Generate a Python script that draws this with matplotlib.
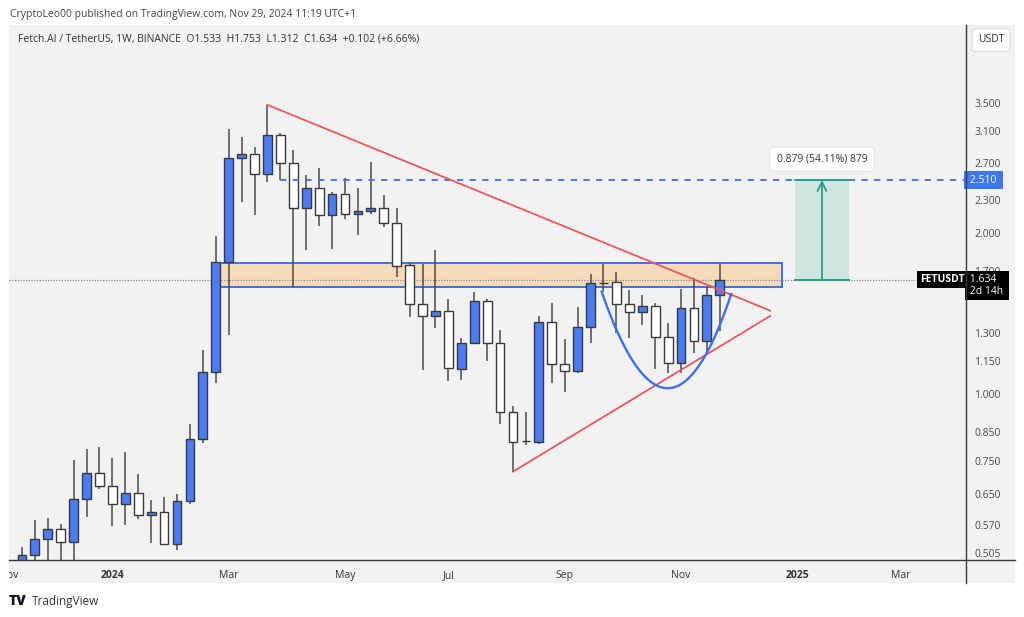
import numpy as np
import pandas as pd
import matplotlib
matplotlib.use('Agg')
import matplotlib.pyplot as plt
from matplotlib.patches import Rectangle
from matplotlib.lines import Line2D
from matplotlib.ticker import FixedLocator, NullLocator, FuncFormatter
from matplotlib.transforms import Bbox, TransformedBbox

plt.rcParams['font.family'] = ['Open Sans', 'DejaVu Sans']

W, H = 1024, 617

# weekly FET/USDT candles, first week starts 2023-11-13
first_week = '2023-11-13'
opens = [0.470, 0.500, 0.535, 0.559, 0.529, 0.637, 0.711, 0.673, 0.622, 0.652,
         0.593, 0.602, 0.524, 0.631, 0.825, 1.099, 1.767, 2.764, 2.809, 2.580,
         3.048, 2.706, 2.224, 2.423, 2.160, 2.361, 2.170, 2.198, 2.229, 2.084,
         1.742, 1.473, 1.400, 1.431, 1.114, 1.245, 1.490, 1.247, 0.924, 0.816,
         0.815, 1.365, 1.138, 1.103, 1.336, 1.615, 1.616, 1.473, 1.421, 1.462,
         1.276, 1.144, 1.446, 1.258, 1.533]
highs = [0.518, 0.581, 0.586, 0.571, 0.752, 0.789, 0.795, 0.758, 0.780, 0.708,
         0.634, 0.641, 0.650, 0.878, 1.210, 1.976, 3.127, 3.022, 2.891, 3.468,
         3.078, 2.854, 2.566, 2.641, 2.388, 2.530, 2.423, 2.717, 2.355, 2.224,
         1.755, 1.747, 1.858, 1.503, 1.271, 1.553, 1.503, 1.319, 0.950, 0.924,
         1.400, 1.477, 1.267, 1.452, 1.676, 1.747, 1.688, 1.564, 1.531, 1.481,
         1.356, 1.571, 1.645, 1.585, 1.753]
lows = [0.460, 0.480, 0.480, 0.480, 0.485, 0.590, 0.664, 0.567, 0.568, 0.583,
        0.527, 0.522, 0.511, 0.623, 0.810, 1.050, 1.289, 2.287, 2.160, 2.493,
        2.511, 1.587, 1.858, 2.063, 1.864, 2.126, 1.982, 2.167, 2.049, 1.656,
        1.395, 1.109, 1.327, 1.059, 1.062, 1.244, 1.153, 0.878, 0.716, 0.803,
        0.806, 1.047, 1.007, 1.096, 1.244, 1.553, 1.299, 1.271, 1.346, 1.112,
        1.093, 1.093, 1.191, 1.183, 1.312]
closes = [0.500, 0.535, 0.559, 0.529, 0.637, 0.711, 0.673, 0.622, 0.652, 0.593,
          0.602, 0.524, 0.631, 0.825, 1.099, 1.767, 2.764, 2.809, 2.580, 3.048,
          2.706, 2.224, 2.423, 2.160, 2.361, 2.170, 2.198, 2.229, 2.084, 1.735,
          1.473, 1.400, 1.431, 1.117, 1.245, 1.490, 1.247, 0.924, 0.814, 0.816,
          1.361, 1.138, 1.103, 1.336, 1.614, 1.615, 1.473, 1.421, 1.462, 1.276,
          1.144, 1.446, 1.258, 1.533, 1.634]

price_ticks = [0.505, 0.570, 0.650, 0.750, 0.850, 1.000, 1.150, 1.300,
               1.700, 2.000, 2.300, 2.700, 3.100, 3.500]

# drawings (bar index, price)
zone_bars = [14.9, 58.85]
zone_prices = [1.587, 1.755]
target_price = 2.510
target_from_bar = 20
last_price = 1.634
upper_trend_bars, upper_trend_prices = [19, 57.9], [3.468, 1.431]
lower_trend_bars, lower_trend_prices = [38, 57.9], [0.716, 1.399]
cup_bars, cup_prices = [44.86, 50.0, 54.88], [1.553, 0.680, 1.537]
measure_bars = [59.85, 63.96]
measure_prices = [1.631, 2.510]

BLUE = '#4a7cf8'
EDGE = '#3a3a3a'
RED = '#f0545c'
LINE_BLUE = '#3a6ff6'
BG = '#f2f2f2'

fig = plt.figure(figsize=(W / 100, H / 100), dpi=100)
fig.patch.set_facecolor('white')
fig.add_artist(Rectangle((9 / W, 1 - 583 / H), (1015 - 9) / W, (583 - 25) / H,
                         transform=fig.transFigure, facecolor=BG, edgecolor='none', zorder=-5))

ax = fig.add_axes([9 / W, 1 - 560 / H, (966 - 9) / W, (560 - 25) / H])
ax.set_facecolor('none')
ax.set_yscale('log')
ax.set_xlim(-0.85, 73.05)
ax.set_ylim(0.4896, 4.89)
for s in ax.spines.values():
    s.set_visible(False)

o = np.array(opens)
c = np.array(closes)
idx = np.arange(len(o))
up = c >= o

# zone
ax.add_patch(Rectangle((zone_bars[0], zone_prices[0]), zone_bars[1] - zone_bars[0],
                       zone_prices[1] - zone_prices[0], facecolor='#f5dbb8',
                       edgecolor=LINE_BLUE, lw=1.4, zorder=1))

ax.vlines(idx, lows, highs, color='#4a4a4a', lw=1.1, zorder=2)
ax.bar(idx, np.abs(c - o), bottom=np.minimum(o, c), width=0.68,
       color=np.where(up, BLUE, 'white'), edgecolor=EDGE, lw=1.0, zorder=3)

# last price dotted line
ax.axhline(last_price, color='#8a8a8a', lw=0.9, ls=(0, (1, 1.2)), zorder=1.5)

# target dashed line
ax.plot([target_from_bar, ax.get_xlim()[1]], [target_price, target_price],
        color=LINE_BLUE, lw=1.3, dashes=(3.5, 3.5), zorder=4)

# triangle
ax.plot(upper_trend_bars, upper_trend_prices, color=RED, lw=1.3, zorder=4)
ax.plot(lower_trend_bars, lower_trend_prices, color=RED, lw=1.3, zorder=4)

# cup (quadratic bezier in bar / log-price space)
t = np.linspace(0, 1, 80)
lp = np.log(cup_prices)
bx = (1 - t) ** 2 * cup_bars[0] + 2 * (1 - t) * t * cup_bars[1] + t ** 2 * cup_bars[2]
by = np.exp((1 - t) ** 2 * lp[0] + 2 * (1 - t) * t * lp[1] + t ** 2 * lp[2])
ax.plot(bx, by, color=LINE_BLUE, lw=1.7, zorder=4)

# measure box
ax.add_patch(Rectangle((measure_bars[0], measure_prices[0]), measure_bars[1] - measure_bars[0],
                       measure_prices[1] - measure_prices[0], facecolor='#cfe5df',
                       edgecolor='none', zorder=1))
for p in measure_prices:
    ax.plot(measure_bars, [p, p], color='#26a08a', lw=1.4, zorder=4)
mid = sum(measure_bars) / 2
ax.annotate('', xy=(mid, measure_prices[1]), xytext=(mid, measure_prices[0]),
            arrowprops=dict(arrowstyle='->', color='#26a08a', lw=1.3,
                            shrinkA=0, shrinkB=0, mutation_scale=16), zorder=5)
diff = measure_prices[1] - measure_prices[0]
ax.annotate(f'{diff:.3f} (54.11%) {round(diff * 1000)}', xy=(mid, measure_prices[1]),
            xytext=(0, 15), textcoords='offset points', ha='center', va='center',
            fontsize=7.5, color='#333333',
            bbox=dict(boxstyle='round,pad=0.65,rounding_size=0.3', fc='white', ec='#e4e4e4', lw=0.8))

# y axis on the right
ax.yaxis.tick_right()
ax.yaxis.set_major_locator(FixedLocator(price_ticks))
ax.yaxis.set_minor_locator(NullLocator())
ax.yaxis.set_major_formatter(FuncFormatter(lambda v, _: f'{v:.3f}'))
ax.tick_params(axis='y', length=0, pad=6, labelsize=7.5, labelcolor='#4a4a4a')

# x axis: first monday of odd months
weeks = pd.date_range('2023-11-06', '2025-03-31', freq='W-MON')
base = pd.Timestamp(first_week)
xt, xl = [], []
for m, grp in pd.Series(weeks).groupby([weeks.year, weeks.month]):
    d = grp.iloc[0]
    if d.month % 2 == 1:
        xt.append((d - base).days / 7)
        xl.append(str(d.year) if d.month == 1 else d.strftime('%b'))
ax.set_xticks(xt)
ax.set_xticklabels(xl)
ax.tick_params(axis='x', length=0, pad=7, labelsize=7.5, labelcolor='#333333')
panel_clip = TransformedBbox(Bbox([[9 / W, 0], [1015 / W, 1]]), fig.transFigure)
for lab in ax.get_xticklabels():
    if lab.get_text().isdigit():
        lab.set_fontweight('bold')
    lab.set_clip_box(panel_clip)
    lab.set_clip_on(True)

# axis lines
fig.add_artist(Line2D([966 / W, 966 / W], [1 - 25 / H, 1 - 583 / H], color='#3a3a3a', lw=1.0))
fig.add_artist(Line2D([9 / W, 1015 / W], [1 - 560 / H, 1 - 560 / H], color='#3a3a3a', lw=1.0))

# price labels
ytr = ax.get_yaxis_transform()
ax.text(1.0015, target_price, ' 2.510 ', transform=ytr, ha='left', va='center',
        fontsize=7.5, color='white', clip_on=False, zorder=6,
        bbox=dict(boxstyle='square,pad=0.3', fc='#3f76f6', ec='none'))
ax.text(0.999, last_price, 'FETUSDT', transform=ytr, ha='right', va='center',
        fontsize=7.5, color='white', fontweight='bold', clip_on=False, zorder=6,
        bbox=dict(boxstyle='square,pad=0.3', fc='black', ec='none'))
ax.annotate(f' {last_price:.3f}  \n 2d 14h ', xy=(1.0, last_price), xycoords=ytr,
            xytext=(1, 4.5), textcoords='offset points', ha='left', va='top',
            fontsize=7.5, color='white', annotation_clip=False, zorder=6, linespacing=1.2,
            bbox=dict(boxstyle='square,pad=0.25', fc='black', ec='none'))

# header
fig.text(10 / W, 1 - 14 / H, 'CryptoLeo00 published on TradingView.com, Nov 29, 2024 11:19 UTC+1',
         fontsize=7.5, color='#444444', va='center')
fig.text(18 / W, 1 - 39 / H,
         'Fetch.AI / TetherUS, 1W, BINANCE  O1.533  H1.753  L1.312  C1.634  +0.102 (+6.66%)',
         fontsize=7.5, color='#333333', va='center')
fig.text(991 / W, 1 - 40 / H, 'USDT', fontsize=7.5, color='#333333', ha='center', va='center',
         bbox=dict(boxstyle='round,pad=0.55,rounding_size=0.3', fc='white', ec='#dddddd', lw=0.8))

# footer logo
fig.text(9 / W, 1 - 601 / H, 'TV', fontsize=10, fontweight='heavy', color='#131722', va='center')
fig.text(32 / W, 1 - 601 / H, 'TradingView', fontsize=8.5, color='#333333', va='center')

fig.savefig('out.png', dpi=100)
